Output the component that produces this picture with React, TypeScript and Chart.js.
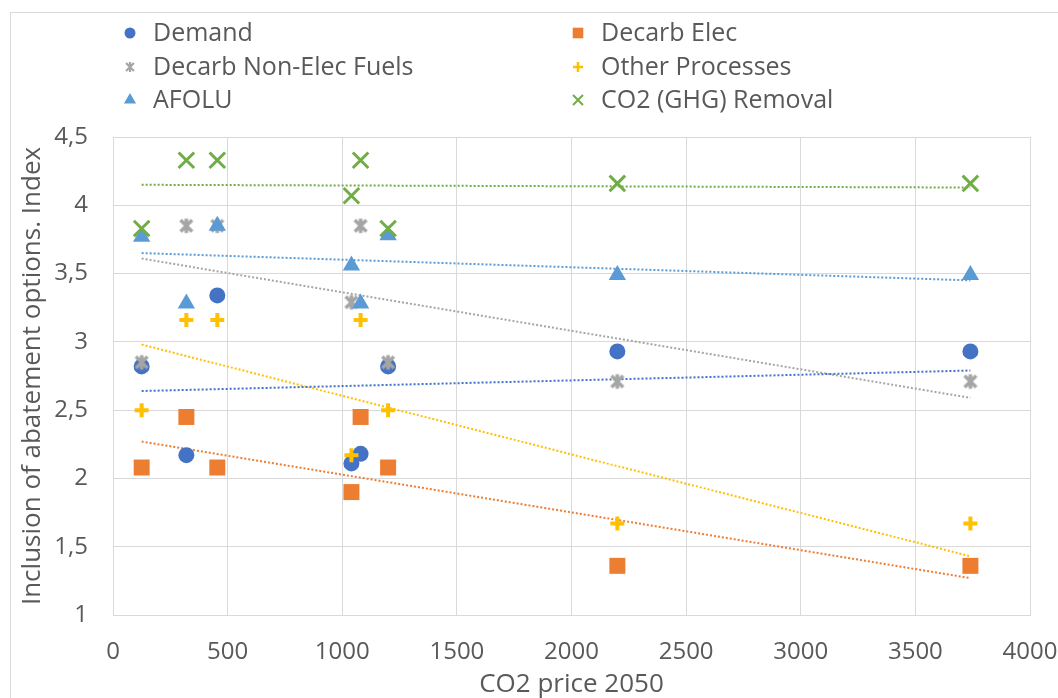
import React, { useEffect, useRef } from "react";
import { Chart, registerables } from "chart.js";
import { drawPoint } from "chart.js/helpers";

Chart.register(...registerables);

// ---- data ----
const co2Price = [125, 320, 455, 1040, 1080, 1200, 2200, 3740];
const demand = [2.82, 2.17, 3.34, 2.11, 2.18, 2.82, 2.93, 2.93];
const decarbElec = [2.08, 2.45, 2.08, 1.9, 2.45, 2.08, 1.36, 1.36];
const decarbNonElec = [2.85, 3.85, 3.85, 3.29, 3.85, 2.85, 2.71, 2.71];
const otherProcesses = [2.5, 3.16, 3.16, 2.17, 3.16, 2.5, 1.67, 1.67];
const afolu = [3.77, 3.28, 3.85, 3.56, 3.28, 3.78, 3.49, 3.49];
const co2Removal = [3.83, 4.33, 4.33, 4.07, 4.33, 3.83, 4.16, 4.16];

// trendline end points
const trendX = [125, 3740];
const demandTrend = [2.64, 2.79];
const decarbElecTrend = [2.27, 1.27];
const decarbNonElecTrend = [3.61, 2.59];
const otherProcessesTrend = [2.98, 1.43];
const afoluTrend = [3.65, 3.45];
const co2RemovalTrend = [4.15, 4.13];

const xTicks = [0, 500, 1000, 1500, 2000, 2500, 3000, 3500, 4000];
const yTicks = [1, 1.5, 2, 2.5, 3, 3.5, 4, 4.5];

const FONT = "'Open Sans', sans-serif";
const TEXT = "#595959";
const GRID = "#d9d9d9";

// asterisk marker (x with vertical bar) like Excel's star marker
function makeAsterisk(size: number, lw: number, color: string): HTMLCanvasElement {
  const c = document.createElement("canvas");
  c.width = size;
  c.height = size;
  const g = c.getContext("2d")!;
  g.strokeStyle = color;
  g.lineWidth = lw;
  g.lineCap = "butt";
  const m = size / 2;
  const r = size / 2 - lw / 2;
  const d = r * 0.8;
  g.beginPath();
  g.moveTo(m - d, m - d);
  g.lineTo(m + d, m + d);
  g.moveTo(m + d, m - d);
  g.lineTo(m - d, m + d);
  g.moveTo(m, m - r);
  g.lineTo(m, m + r);
  g.stroke();
  return c;
}

type SeriesDef = {
  label: string;
  values: number[];
  trend: number[];
  color: string;
  style: string;
  radius: number;
  border: number;
  legendRadius: number;
  legendBorder: number;
  order: number;
};

const series: SeriesDef[] = [
  { label: "Demand", values: demand, trend: demandTrend, color: "#4472C4", style: "circle", radius: 8, border: 0, legendRadius: 5.5, legendBorder: 0, order: 5 },
  { label: "Decarb Elec", values: decarbElec, trend: decarbElecTrend, color: "#ED7D31", style: "rect", radius: 11.3, border: 0, legendRadius: 7.5, legendBorder: 0, order: 4 },
  { label: "Decarb Non-Elec Fuels", values: decarbNonElec, trend: decarbNonElecTrend, color: "#A5A5A5", style: "asterisk", radius: 9, border: 3, legendRadius: 5, legendBorder: 2, order: 3 },
  { label: "Other Processes", values: otherProcesses, trend: otherProcessesTrend, color: "#FFC000", style: "cross", radius: 7, border: 4, legendRadius: 5, legendBorder: 2.5, order: 2 },
  { label: "AFOLU", values: afolu, trend: afoluTrend, color: "#5B9BD5", style: "triangle", radius: 10, border: 0, legendRadius: 7, legendBorder: 0, order: 1 },
  { label: "CO2 (GHG) Removal", values: co2Removal, trend: co2RemovalTrend, color: "#70AD47", style: "crossRot", radius: 11, border: 3, legendRadius: 7, legendBorder: 2, order: 0 },
];

// legend layout: 2 columns x 3 rows
const legendCols = [130, 578];
const legendRows = [33, 67, 100];

export default function App() {
  const ref = useRef<HTMLCanvasElement>(null);

  useEffect(() => {
    if (!ref.current) return;
    const bigStar = makeAsterisk(18, 3.5, "#A5A5A5");
    const smallStar = makeAsterisk(12, 2.2, "#A5A5A5");

    const legendPlugin = {
      id: "customLegend",
      afterDraw(chart: any) {
        const ctx = chart.ctx as CanvasRenderingContext2D;
        ctx.save();
        series.forEach((s, i) => {
          const col = i % 2;
          const row = Math.floor(i / 2);
          const x = legendCols[col];
          const y = legendRows[row];
          ctx.fillStyle = s.color;
          ctx.strokeStyle = s.color;
          ctx.lineWidth = s.legendBorder;
          const ps = s.style === "asterisk" ? smallStar : s.style;
          drawPoint(ctx, { pointStyle: ps as any, radius: s.legendRadius, borderWidth: s.legendBorder, rotation: 0 } as any, x, y);
          ctx.fillStyle = TEXT;
          ctx.font = `25px ${FONT}`;
          ctx.textBaseline = "middle";
          ctx.textAlign = "left";
          ctx.fillText(s.label, x + 23, y + 1);
        });
        ctx.restore();
      },
    };

    const scatterSets = series.map((s) => ({
      type: "scatter" as const,
      label: s.label,
      data: co2Price.map((x, i) => ({ x, y: s.values[i] })),
      pointStyle: (s.style === "asterisk" ? bigStar : s.style) as any,
      pointRadius: s.radius,
      pointBackgroundColor: s.color,
      pointBorderColor: s.color,
      pointBorderWidth: s.border,
      backgroundColor: s.color,
      borderColor: s.color,
      showLine: false,
      order: s.order,
    }));
    const trendSets = series.map((s) => ({
      type: "line" as const,
      label: s.label + " trend",
      data: trendX.map((x, i) => ({ x, y: s.trend[i] })),
      borderColor: s.color,
      borderWidth: 2,
      borderDash: [2, 2],
      pointRadius: 0,
      fill: false,
      order: 10,
    }));

    const chart = new Chart(ref.current, {
      type: "scatter",
      data: { datasets: [...scatterSets, ...trendSets] as any },
      options: {
        responsive: false,
        animation: false,
        events: [],
        layout: { padding: { top: 137, left: 10, right: 0, bottom: 0 } },
        plugins: {
          legend: { display: false },
          tooltip: { enabled: false },
          title: { display: false },
        },
        scales: {
          x: {
            type: "linear",
            min: 0,
            max: 4000,
            afterBuildTicks: (scale: any) => {
              scale.ticks = xTicks.map((v) => ({ value: v }));
            },
            afterFit: (scale: any) => {
              scale.height = 83;
              scale.paddingRight = 28;
              scale.paddingLeft = 0;
            },
            ticks: {
              color: TEXT,
              font: { family: FONT, size: 24 },
              padding: 23,
              maxRotation: 0,
              callback: (v: any) => String(v),
            },
            grid: { color: GRID, lineWidth: 1, drawTicks: false },
            border: { display: true, color: GRID },
            title: {
              display: true,
              text: "CO2 price 2050",
              color: TEXT,
              font: { family: FONT, size: 26 },
              padding: { top: 0, bottom: -2 },
            },
          },
          y: {
            type: "linear",
            min: 1,
            max: 4.5,
            afterBuildTicks: (scale: any) => {
              scale.ticks = yTicks.map((v) => ({ value: v }));
            },
            afterFit: (scale: any) => {
              scale.width = 103;
              scale.paddingTop = 0;
              scale.paddingBottom = 0;
            },
            ticks: {
              color: TEXT,
              font: { family: FONT, size: 24 },
              padding: 25,
              callback: (v: any) => String(v).replace(".", ","),
            },
            grid: { color: GRID, lineWidth: 1, drawTicks: false },
            border: { display: true, color: GRID },
            title: {
              display: true,
              text: "Inclusion of abatement options. Index",
              color: TEXT,
              font: { family: FONT, size: 26 },
              padding: { top: 7, bottom: 0 },
            },
          },
        },
      },
      plugins: [legendPlugin],
    });
    return () => chart.destroy();
  }, []);

  return (
    <div
      style={{
        position: "fixed",
        left: 0,
        top: 0,
        width: 1058,
        height: 698,
        background: "#ffffff",
        overflow: "hidden",
      }}
    >
      <div
        style={{
          position: "absolute",
          left: 10,
          top: 12,
          width: 1100,
          height: 800,
          borderLeft: "1px solid #d9d9d9",
          borderTop: "1px solid #d9d9d9",
        }}
      />
      <canvas ref={ref} width={1058} height={698} style={{ position: "absolute", left: 0, top: 0 }} />
    </div>
  );
}
